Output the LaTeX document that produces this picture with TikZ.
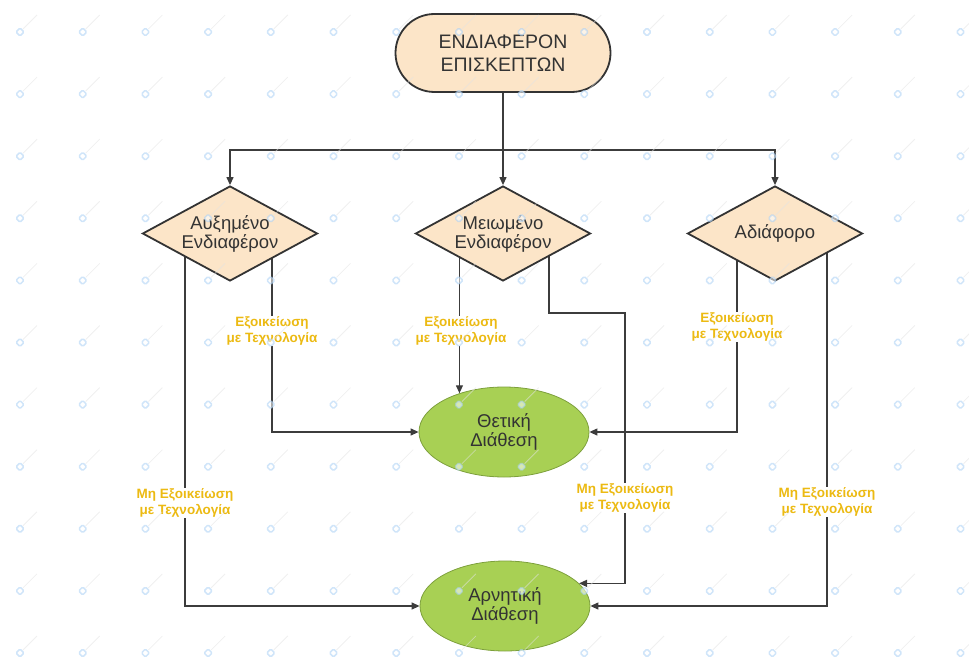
\documentclass[tikz,border=0pt]{standalone}
\usepackage{fontspec}
\setmainfont{Liberation Sans}
\usetikzlibrary{shapes.geometric,arrows.meta,calc}
\pgfdeclarelayer{background}
\pgfsetlayers{background,main}

\definecolor{peach}{RGB}{252,229,200}
\definecolor{leaf}{RGB}{168,208,84}
\definecolor{leafedge}{RGB}{125,160,60}
\definecolor{ink}{RGB}{51,51,51}
\definecolor{wirecol}{RGB}{60,60,60}
\definecolor{gold}{RGB}{236,186,18}
\definecolor{markblue}{RGB}{170,208,245}

\begin{document}
\begin{tikzpicture}[x=1pt,y=-1pt,
  startbox/.style={draw=ink, line width=1.8pt, fill=peach, rounded corners=39pt,
    minimum width=215pt, minimum height=78pt, inner sep=0pt, align=center,
    text=ink, font=\fontsize{19.5}{23}\selectfont},
  choice/.style={diamond, draw=ink, line width=1.8pt, fill=peach,
    minimum width=175pt, minimum height=95pt, inner sep=0pt},
  choicetext/.style={align=center, text=ink, font=\fontsize{18.5}{19}\selectfont},
  outcome/.style={ellipse, draw=leafedge, line width=0.8pt, fill=leaf,
    minimum width=170pt, minimum height=90pt, inner sep=0pt, align=center,
    text=ink, font=\fontsize{18.5}{19}\selectfont},
  plainline/.style={draw=wirecol, line width=1.2pt},
  conn/.style={plainline, -{Triangle[length=8pt,width=7pt]}},
  tag/.style={fill=white, inner sep=1pt, align=center, text=gold,
    font=\bfseries\fontsize{13.5}{16}\selectfont},
  wmline/.style={gray!22, line width=0.8pt},
  wmicon/.style={markblue, line width=1.5pt, fill=white, rounded corners=1.2pt},
]
\useasboundingbox (0,0) rectangle (969,666);

% start terminator and the three decisions
\node[startbox] (top) at (503,53) {ΕΝΔΙΑΦΕΡΟΝ\\ΕΠΙΣΚΕΠΤΩΝ};
\node[choice] (d1) at (230,233.5) {};
\node[choice] (d2) at (503,233.5) {};
\node[choice] (d3) at (775,233.5) {};
\node[choicetext] (t1) at (d1) {Αυξημένο\\Ενδιαφέρον};
\node[choicetext] (t2) at (d2) {Μειωμένο\\Ενδιαφέρον};
\node[choicetext] (t3) at (d3) {Αδιάφορο};

% outcomes
\node[outcome] (pos) at (504,432) {Θετική\\Διάθεση};
\node[outcome] (neg) at (505,606) {Αρνητική\\Διάθεση};

% bend points
\coordinate (split) at (503,150);
\coordinate (jog) at (625,313);

\begin{pgfonlayer}{background}
  \draw[plainline] (top.south) -- (split);
  \draw[conn] (split) -| (d1.north);
  \draw[conn] (split) -- (d2.north);
  \draw[conn] (split) -| (d3.north);

  \draw[conn] ($(d1.center)+(-45,0)$) |- (neg.west);
  \draw[conn] ($(d1.center)+(42,0)$) |- (pos.west);

  \draw[conn] (pos.139 |- d2.center) -- (pos.139);
  \draw[conn] ($(d2.center)+(46,0)$) |- (jog) |- (neg.17);

  \draw[conn] ($(d3.center)+(-38,0)$) |- (pos.east);
  \draw[conn] ($(d3.center)+(52,0)$) |- (neg.east);
\end{pgfonlayer}

% branch labels
\node[tag] (l1) at (272,331) {Εξοικείωση\\με Τεχνολογία};
\node[tag] (l2) at (461,331) {Εξοικείωση\\με Τεχνολογία};
\node[tag] (l3) at (737,327) {Εξοικείωση\\με Τεχνολογία};
\node[tag] (l4) at (185,503) {Μη Εξοικείωση\\με Τεχνολογία};
\node[tag] (l5) at (625,498) {Μη Εξοικείωση\\με Τεχνολογία};
\node[tag] (l6) at (827,502) {Μη Εξοικείωση\\με Τεχνολογία};

% faint tiled stamp over the whole sheet
\begin{scope}[opacity=0.55]
\foreach \i in {0,...,15}{
  \foreach \j in {0,...,10}{
    \coordinate (m) at ({20+62.7*\i},{32+62.1*\j});
    \draw[wmline] ($(m)+(3,-3)$) -- ($(m)+(17,-17)$);
    \draw[wmicon] ($(m)+(0,-4)$) -- ($(m)+(4,0)$) -- ($(m)+(0,4)$) -- ($(m)+(-4,0)$) -- cycle;
  }
}
\end{scope}
\end{tikzpicture}
\end{document}
